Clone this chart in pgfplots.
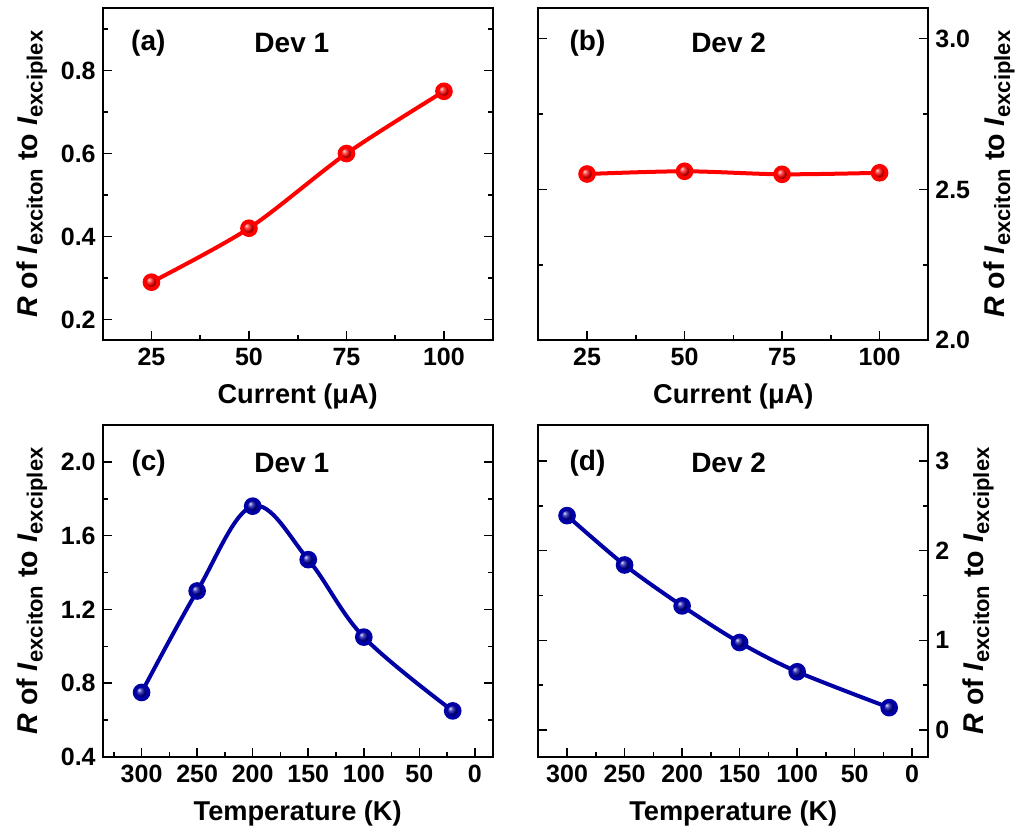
\documentclass[border=0pt]{standalone}
\usepackage{pgfplots}
\pgfplotsset{compat=1.18}
\usepackage{fontspec}
\setmainfont{Liberation Sans}
\definecolor{myred}{RGB}{255,0,0}
\definecolor{myblue}{RGB}{0,0,165}
\newcommand{\ylab}{\textit{R} of \textit{I}{\fontsize{11}{12}\selectfont\raisebox{-0.25em}{exciton}} to \textit{I}{\fontsize{11}{12}\selectfont\raisebox{-0.25em}{exciplex}}}
\tikzset{pl/.style={font=\fontsize{14}{16}\selectfont\bfseries}}
\pgfplotsset{
  panel/.style={
    scale only axis, width=195pt, height=166pt,
    axis line style={line width=1pt}, every tick/.style={line width=0.8pt, black},
    tick align=inside, major tick length=4.5pt, minor tick length=2.5pt,
    xtick pos=bottom, ytick pos=both,
    /pgf/number format/assume math mode=true,
    tick label style={font=\fontsize{12.5}{14}\selectfont\bfseries},
    xticklabel style={yshift=-0.5pt},
    label style={font=\fontsize{13.6}{15}\selectfont\bfseries},
    xlabel style={yshift=-2pt},
    ylabel style={font=\fontsize{14.3}{16}\selectfont\bfseries},
    clip=false,
  },
  cur/.style={xmin=12.5, xmax=112.5, xtick={25,50,75,100}, minor xtick={37.5,62.5,87.5}, xlabel={Current (μA)}},
  temp/.style={x dir=reverse, xtick={0,50,...,300}, minor xtick={25,75,...,325}, xlabel={Temperature (K)}},
}
\begin{document}
\begin{tikzpicture}
\useasboundingbox (0,0) rectangle (509pt,-415.5pt);
% (a)
\begin{axis}[panel, cur, at={(51.35pt,-4.15pt)}, anchor=north west,
  ymin=0.15, ymax=0.95, ytick={0.2,0.4,0.6,0.8}, minor ytick={0.3,0.5,0.7,0.9},
  yticklabel style={/pgf/number format/.cd, fixed, fixed zerofill, precision=1},
  yticklabel pos=left, ylabel={\ylab}]
\addplot[myred, line width=2pt, smooth, mark=ball, mark size=3.4pt, mark options={ball color=myred}] coordinates {(25,0.29) (50,0.42) (75,0.60) (100,0.75)};
\node[pl] at (rel axis cs:0.117,0.896) {(a)};
\node[pl] at (rel axis cs:0.485,0.896) {Dev 1};
\end{axis}
% (b)
\begin{axis}[panel, cur, at={(269.15pt,-4.15pt)}, anchor=north west,
  ymin=2.0, ymax=3.1, ytick={2.0,2.5,3.0}, minor ytick={2.25,2.75},
  yticklabel style={/pgf/number format/.cd, fixed, fixed zerofill, precision=1},
  yticklabel pos=right, ylabel={\ylab}]
\addplot[myred, line width=2pt, smooth, mark=ball, mark size=3.4pt, mark options={ball color=myred}] coordinates {(25,2.551) (50,2.56) (75,2.55) (100,2.555)};
\node[pl] at (rel axis cs:0.126,0.896) {(b)};
\node[pl] at (rel axis cs:0.488,0.896) {Dev 2};
\end{axis}
% (c)
\begin{axis}[panel, temp, at={(51.35pt,-212.5pt)}, anchor=north west,
  xmin=-16, xmax=335,
  ymin=0.4, ymax=2.2, ytick={0.4,0.8,1.2,1.6,2.0}, minor ytick={0.6,1.0,1.4,1.8,2.2},
  yticklabel style={/pgf/number format/.cd, fixed, fixed zerofill, precision=1},
  yticklabel pos=left, ylabel={\ylab}]
\addplot[myblue, line width=2pt, smooth, tension=0.6, mark=ball, mark size=3.4pt, mark options={ball color=myblue}] coordinates {(300,0.75) (250,1.30) (200,1.76) (150,1.47) (100,1.05) (20,0.65)};
\node[pl] at (rel axis cs:0.118,0.886) {(c)};
\node[pl] at (rel axis cs:0.485,0.886) {Dev 1};
\end{axis}
% (d)
\begin{axis}[panel, temp, at={(269.15pt,-212.5pt)}, anchor=north west,
  xmin=-14, xmax=325,
  ymin=-0.3, ymax=3.4, ytick={0,1,2,3}, minor ytick={0.5,1.5,2.5},
  yticklabel pos=right, ylabel={\ylab}]
\addplot[myblue, line width=2pt, smooth, mark=ball, mark size=3.4pt, mark options={ball color=myblue}] coordinates {(300,2.39) (250,1.84) (200,1.384) (150,0.976) (100,0.65) (20,0.25)};
\node[pl] at (rel axis cs:0.126,0.886) {(d)};
\node[pl] at (rel axis cs:0.488,0.886) {Dev 2};
\end{axis}
\end{tikzpicture}
\end{document}
